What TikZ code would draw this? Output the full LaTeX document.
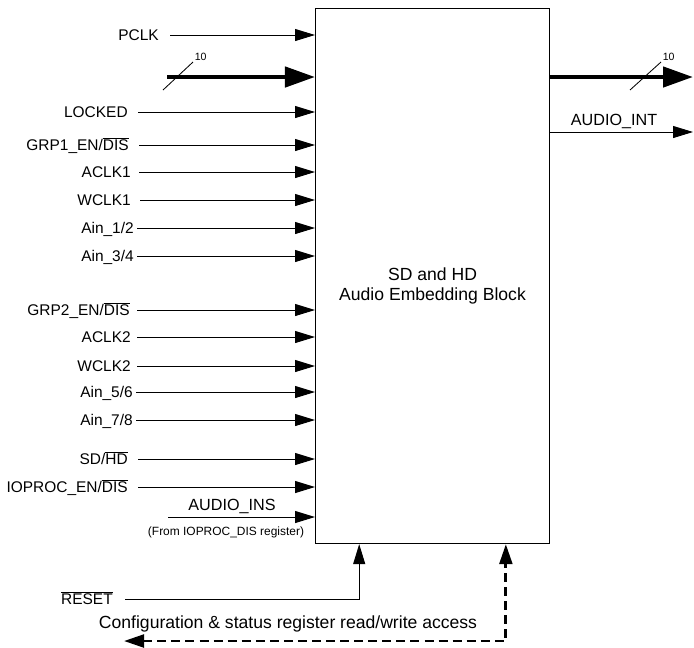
\documentclass[tikz,border=0pt]{standalone}
\usepackage{fontspec}
\setmainfont{Liberation Sans}
\usetikzlibrary{calc,positioning,arrows.meta}

\newcommand{\ovl}[1]{$\overline{\mbox{#1}}$}

\begin{document}
\begin{tikzpicture}[x=0.025cm,y=-0.025cm,
  lbl/.style={inner sep=0pt, font=\fontsize{11}{13}\selectfont, text height=7.9pt, text depth=0pt},
  sig/.style={line width=0.7pt, -{Triangle[length=0.5cm,width=0.3cm]}},
  bus/.style={line width=3.2pt, -{Triangle[length=0.75cm,width=0.5cm]}},
  bslash/.style={line width=0.6pt},
  cfg/.style={line width=2pt, dash pattern=on 6.4pt off 3.6pt,
    {Triangle[length=0.5cm,width=0.32cm]}-{Triangle[length=0.5cm,width=0.32cm]}}]
\useasboundingbox (0,0) rectangle (694,647);
%\draw[help lines, step=50] (0,0) grid (694,647);

% main block
\node[draw, line width=0.7pt, anchor=north west, minimum width=5.85cm, minimum height=13.375cm] (blk) at (315,8) {};
\node[align=center, font=\fontsize{12.5}{14.2}\selectfont] (blktxt) at ($(blk.center)+(0,10)$) {SD and HD\\Audio Embedding Block};

% input signals
\foreach \nm/\xe/\xs/\ys/\txt in {pclk/159/170/35/PCLK, lock/128/138/112/LOCKED,
  grpa/129/139/145/{GRP1\_EN/\ovl{DIS}}, aclka/131/139/172/ACLK1, wclka/131/140/200/WCLK1,
  aina/134/137/228/{Ain\_1/2}, ainb/134/137/256/{Ain\_3/4},
  grpb/130/137/310/{GRP2\_EN/\ovl{DIS}}, aclkb/131/137/337/ACLK2, wclkb/131/137/366/WCLK2,
  ainc/133/136/392/{Ain\_5/6}, aind/133/136/420/{Ain\_7/8},
  sdhd/128/138/459/{SD/\ovl{HD}}, iop/128/138/487/{IOPROC\_EN/\ovl{DIS}}}
{
  \node[lbl, anchor=east] (\nm) at (\xe,\ys) {\txt};
  \coordinate (\nm-in) at (\xs,\ys);
  \draw[sig] (\nm-in) -- (\nm-in -| blk.west);
}

% input bus
\coordinate (busin) at (167,77);
\draw[bus] (busin) -- (busin -| blk.west);
\draw[bslash] ($(busin)+(-4,13)$) -- ++(30,-28) node[lbl, anchor=south west, font=\fontsize{7.5}{8}\selectfont, text height=5.4pt, inner sep=1pt] (binw) {10};

% audio ins
\coordinate (ains) at (168,517);
\draw[sig] (ains) -- (ains -| blk.west);
\node[lbl, font=\fontsize{11.5}{13}\selectfont, text height=8.2pt] (ainsl) at (232,505) {AUDIO\_INS};
\node[lbl, font=\fontsize{8.5}{10}\selectfont, text height=6pt] (ainsn) at (226,531) {(From IOPROC\_DIS register)};

% outputs
\coordinate (busout) at (693,77);
\draw[bus] (busout -| blk.east) -- (busout);
\draw[bslash] ($(busout)+(-63,13)$) -- ++(31,-28) node[lbl, anchor=south west, font=\fontsize{7.5}{8}\selectfont, text height=5.4pt, inner sep=1pt] (boutw) {10};

\coordinate (aint) at (693,132);
\draw[sig] (aint -| blk.east) -- (aint);
\node[lbl, font=\fontsize{11.5}{13}\selectfont, text height=8.2pt] (aintl) at (614,120) {AUDIO\_INT};

% reset and register access
\coordinate (rstport) at ($(blk.south west)!0.188!(blk.south east)$);
\coordinate (cfgport) at ($(blk.south west)!0.812!(blk.south east)$);
\node[lbl, anchor=east] (rst) at (113,599) {\ovl{RESET}};
\draw[sig] ($(rst.east)+(12,0)$) -| (rstport);

\coordinate (cfgend) at (124,641);
\draw[cfg] (cfgend) -| (cfgport);
\node[lbl, font=\fontsize{12.5}{14}\selectfont, text height=9pt] (cfgl) at (288,622) {Configuration \& status register read/write access};

\end{tikzpicture}
\end{document}
